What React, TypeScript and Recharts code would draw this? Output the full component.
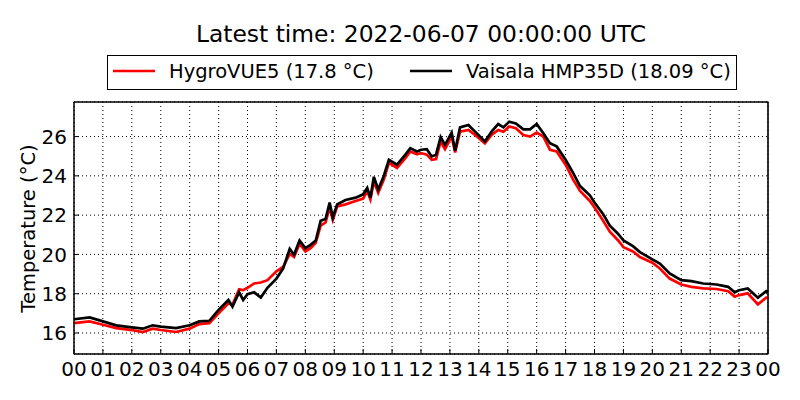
import React from 'react';
import { LineChart, Line, XAxis, YAxis, CartesianGrid, ReferenceLine } from 'recharts';

const hours = [
  0.0, 0.54, 1.0, 1.46, 2.0, 2.38, 2.72, 3.0, 3.53, 4.0, 4.33, 4.68, 5.0, 5.34, 5.48, 5.71, 5.85,
  6.0, 6.23, 6.46, 6.69, 7.0, 7.23, 7.46, 7.61, 7.8, 8.0, 8.18, 8.36, 8.53, 8.7, 8.84, 8.95,
  9.1, 9.39, 9.74, 10.0, 10.14, 10.25, 10.37, 10.52, 10.71, 10.89, 11.17, 11.46, 11.63, 11.86,
  12.0, 12.2, 12.37, 12.52, 12.68, 12.83, 13.06, 13.18, 13.35, 13.64, 13.87, 14.21, 14.44, 14.67,
  14.85, 15.05, 15.28, 15.54, 15.77, 16.0, 16.23, 16.46, 16.69, 17.0, 17.26, 17.5, 17.84, 18.0,
  18.3, 18.53, 18.82, 19.0, 19.33, 19.57, 20.0, 20.26, 20.6, 21.0, 21.35, 21.76, 22.22, 22.62,
  22.85, 23.0, 23.3, 23.65, 23.94, 24.0,
];

const vaisalaHMP35D = [
  16.7, 16.79, 16.59, 16.39, 16.29, 16.22, 16.39, 16.32, 16.25, 16.39, 16.59, 16.62, 17.18, 17.68, 17.34, 18.07, 17.68,
  17.97, 18.07, 17.8, 18.3, 18.77, 19.28, 20.28, 19.98, 20.71, 20.32, 20.49, 20.71, 21.71, 21.8, 22.64, 21.88,
  22.55, 22.77, 22.89, 23.06, 23.39, 22.89, 23.95, 23.31, 23.98, 24.82, 24.57, 25.08, 25.41, 25.24,
  25.33, 25.36, 24.99, 25.08, 25.97, 25.58, 26.2, 25.28, 26.47, 26.59, 26.25, 25.75, 26.25, 26.64,
  26.47, 26.76, 26.67, 26.37, 26.37, 26.64, 26.17, 25.66, 25.5, 24.82, 24.15, 23.48, 23.01, 22.64,
  22.05, 21.46, 21.04, 20.71, 20.42, 20.12, 19.75, 19.53, 19.03, 18.69, 18.64, 18.52, 18.47, 18.35,
  18.07, 18.18, 18.27, 17.8, 18.13, 18.09,
];

const hygroVUE5 = [
  16.5, 16.59, 16.42, 16.25, 16.15, 16.05, 16.22, 16.15, 16.05, 16.22, 16.45, 16.5, 17.0, 17.51, 17.43, 18.22, 18.18,
  18.3, 18.52, 18.57, 18.69, 19.14, 19.36, 20.03, 19.87, 20.54, 20.15, 20.32, 20.59, 21.46, 21.63, 22.39, 21.76,
  22.44, 22.55, 22.72, 22.84, 23.23, 22.8, 23.73, 23.14, 23.8, 24.66, 24.4, 24.9, 25.24, 25.1,
  25.16, 25.08, 24.82, 24.86, 25.75, 25.36, 26.0, 25.19, 26.25, 26.34, 26.08, 25.66, 26.08, 26.34,
  26.25, 26.51, 26.42, 26.08, 26.0, 26.2, 26.0, 25.33, 25.24, 24.57, 23.81, 23.23, 22.72, 22.39,
  21.71, 21.16, 20.71, 20.37, 20.15, 19.87, 19.58, 19.28, 18.77, 18.47, 18.35, 18.27, 18.24, 18.13,
  17.85, 17.93, 18.02, 17.46, 17.8, 17.8,
];

const xTicks = [0, 1, 2, 3, 4, 5, 6, 7, 8, 9, 10, 11, 12, 13, 14, 15, 16, 17, 18, 19, 20, 21, 22, 23, 24];
const xTickLabels = ['00', '01', '02', '03', '04', '05', '06', '07', '08', '09', '10', '11', '12', '13', '14', '15', '16', '17', '18', '19', '20', '21', '22', '23', '00'];
const yTicks = [16, 18, 20, 22, 24, 26];
const yDomain = [14.93, 27.76];
const xDomain = [0, 24];

const titleText = 'Latest time: 2022-06-07 00:00:00 UTC';
const seriesNames = ['HygroVUE5 (17.8 °C)', 'Vaisala HMP35D (18.09 °C)'];
const yLabel = 'Temperature (°C)';

const data = hours.map((h, i) => ({ h, hygro: hygroVUE5[i], vaisala: vaisalaHMP35D[i] }));

const FONT = '"DejaVu Sans", sans-serif';

// chart frame layout (plot area)
const PLOT = { left: 74, top: 102, right: 768, bottom: 354 };

export default function App() {
  return (
    <div style={{ position: 'absolute', left: 0, top: 0, width: 800, height: 400, background: '#fff', fontFamily: FONT }}>
      <LineChart
        width={800}
        height={400}
        data={data}
        margin={{ top: PLOT.top, right: 800 - PLOT.right, bottom: 0, left: 0 }}
        style={{ fontFamily: FONT }}
      >
        <CartesianGrid stroke="#000" strokeDasharray="1 3" strokeWidth={1} />
        <XAxis
          dataKey="h"
          type="number"
          domain={xDomain}
          ticks={xTicks}
          tickFormatter={(v: number) => xTickLabels[xTicks.indexOf(v)]}
          height={400 - PLOT.bottom}
          interval={0}
          tickSize={-5}
          tickMargin={13}
          axisLine={{ stroke: '#000', strokeWidth: 1 }}
          tickLine={{ stroke: '#000' }}
          tick={{ fill: '#000', fontSize: 20, fontFamily: FONT }}
        />
        <YAxis
          type="number"
          domain={yDomain}
          ticks={yTicks}
          width={PLOT.left}
          interval={0}
          tickSize={-5}
          tickMargin={12}
          axisLine={{ stroke: '#000', strokeWidth: 1 }}
          tickLine={{ stroke: '#000' }}
          tick={{ fill: '#000', fontSize: 20, fontFamily: FONT }}
        />
        <ReferenceLine y={yDomain[1]} stroke="#000" strokeWidth={1.2} ifOverflow="visible" />
        <ReferenceLine x={xDomain[1]} stroke="#000" strokeWidth={1.2} ifOverflow="visible" />
        <Line
          dataKey="hygro"
          stroke="#ff0000"
          strokeWidth={2.7}
          dot={false}
          isAnimationActive={false}
        />
        <Line
          dataKey="vaisala"
          stroke="#000000"
          strokeWidth={2.7}
          dot={false}
          isAnimationActive={false}
        />
      </LineChart>
      <svg
        width={800}
        height={400}
        style={{ position: 'absolute', left: 0, top: 0, pointerEvents: 'none' }}
        fontFamily={FONT}
      >
        <rect
          x={PLOT.left}
          y={PLOT.top}
          width={PLOT.right - PLOT.left}
          height={PLOT.bottom - PLOT.top}
          fill="none"
          stroke="#000"
          strokeWidth={1}
        />
        <text x={421} y={42.3} textAnchor="middle" fontSize={23.4} fill="#000">
          {titleText}
        </text>
        <rect x={107.5} y={55.5} width={629} height={34} fill="#fff" stroke="#000" strokeWidth={1} />
        <line x1={113} x2={155} y1={71} y2={71} stroke="#ff0000" strokeWidth={2.7} />
        <text x={169} y={78.3} fontSize={19.5} fill="#000">{seriesNames[0]}</text>
        <line x1={410} x2={452} y1={71} y2={71} stroke="#000" strokeWidth={2.7} />
        <text x={466} y={78.3} fontSize={19.5} fill="#000">{seriesNames[1]}</text>
        <text
          x={35}
          y={228.5}
          textAnchor="middle"
          fontSize={19.5}
          fill="#000"
          transform="rotate(-90 35 228.5)"
        >
          {yLabel}
        </text>
      </svg>
    </div>
  );
}
